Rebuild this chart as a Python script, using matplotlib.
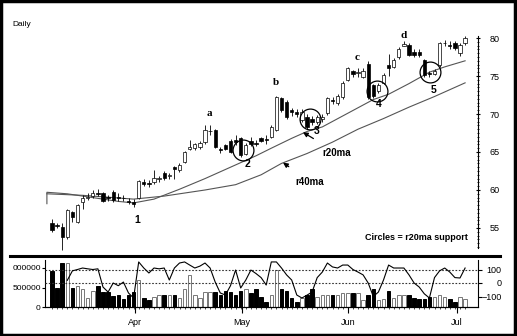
import numpy as np
import matplotlib

matplotlib.use("Agg")
import matplotlib.pyplot as plt
from matplotlib.lines import Line2D
from matplotlib.patches import Rectangle

# daily bars, trading day index 0..81 (mid March to early July)
opens = [55.7, 55.4, 55.1, 53.8, 57.1, 55.8, 58.4, 59.0, 59.2, 59.6,
         59.6, 59.1, 59.7, 59.1, 59.0, 58.6, 58.4, 58.9, 61.0, 60.9,
         61.0, 61.5, 62.3, 61.9, 63.0, 62.6, 63.7, 65.4, 65.5, 65.7,
         66.3, 67.7, 67.9, 65.4, 65.9, 66.5, 66.6, 66.8, 64.8, 66.4,
         66.2, 66.8, 66.7, 67.0, 67.9, 72.1, 71.6, 70.5, 70.3, 69.2,
         69.6, 69.3, 69.0, 69.4, 70.1, 71.9, 71.4, 72.2, 74.5, 75.6,
         75.4, 74.9, 76.6, 73.8, 73.0, 74.1, 76.4, 76.2, 77.5, 79.0,
         79.1, 78.2, 78.1, 77.1, 75.4, 75.3, 76.4, 79.3, 79.1, 79.3,
         78.0, 79.3]
highs = [56.2, 55.7, 55.7, 57.5, 57.3, 58.2, 59.4, 59.6, 60.0, 60.1,
         59.8, 59.4, 60.0, 59.6, 59.3, 58.9, 58.8, 61.3, 61.5, 61.3,
         62.6, 61.9, 62.5, 62.3, 63.2, 63.6, 65.1, 66.6, 66.2, 66.5,
         68.6, 68.6, 68.0, 65.7, 66.0, 66.7, 67.2, 67.0, 66.2, 67.0,
         66.6, 67.0, 67.2, 68.6, 72.4, 72.3, 71.8, 70.8, 70.6, 70.6,
         70.0, 69.8, 69.9, 70.0, 72.3, 72.2, 72.6, 74.3, 76.2, 75.8,
         76.1, 76.0, 77.0, 74.0, 74.1, 75.4, 77.9, 77.4, 78.8, 79.6,
         79.3, 78.6, 78.5, 77.3, 75.6, 75.9, 79.5, 79.8, 79.6, 79.6,
         79.3, 80.2]
lows = [54.5, 55.0, 52.1, 53.6, 55.8, 55.6, 57.5, 58.7, 59.0, 59.2,
        58.4, 58.6, 58.4, 58.5, 58.6, 58.2, 57.7, 58.8, 60.5, 60.4,
        60.8, 61.0, 61.3, 61.5, 61.4, 62.4, 63.6, 65.2, 65.2, 65.4,
        66.1, 67.3, 65.5, 64.9, 65.2, 64.9, 65.9, 64.3, 64.6, 65.8,
        65.8, 66.3, 66.1, 66.8, 67.7, 70.2, 69.3, 69.7, 69.6, 69.0,
        68.0, 68.6, 68.7, 69.0, 69.9, 71.3, 71.2, 72.0, 74.3, 74.9,
        74.9, 74.7, 72.0, 72.1, 72.8, 73.9, 75.0, 76.0, 77.3, 78.9,
        77.6, 77.5, 77.5, 74.9, 74.9, 75.1, 76.2, 78.9, 78.5, 78.4,
        77.6, 79.1]
closes = [54.8, 55.3, 53.8, 57.4, 56.5, 58.0, 59.0, 59.1, 59.6, 59.5,
          58.6, 58.9, 58.7, 59.0, 58.9, 58.4, 58.2, 61.2, 60.8, 60.8,
          61.6, 61.6, 61.6, 62.0, 62.7, 63.3, 65.0, 65.6, 66.0, 66.2,
          67.9, 67.8, 65.7, 65.3, 65.4, 65.0, 66.3, 64.6, 65.9, 66.0,
          66.1, 66.5, 66.6, 68.3, 72.2, 70.5, 69.6, 70.2, 70.0, 70.3,
          68.3, 69.0, 69.6, 69.6, 72.1, 71.7, 72.4, 74.1, 76.0, 75.3,
          75.5, 75.7, 72.2, 72.4, 73.8, 75.1, 76.1, 77.1, 78.6, 79.2,
          77.8, 77.7, 77.8, 75.1, 75.2, 75.7, 79.3, 79.4, 79.0, 78.7,
          79.1, 80.0]
volume = [920000, 500000, 1130000, 1130000, 500000, 550000, 450000, 230000, 420000, 550000,
          380000, 380000, 270000, 300000, 200000, 300000, 380000, 690000, 230000, 180000,
          250000, 300000, 300000, 300000, 300000, 230000, 450000, 820000, 300000, 230000,
          380000, 380000, 380000, 320000, 400000, 380000, 300000, 420000, 450000, 350000,
          450000, 250000, 120000, 300000, 950000, 450000, 400000, 230000, 120000, 230000,
          300000, 450000, 250000, 300000, 300000, 320000, 320000, 350000, 370000, 370000,
          370000, 170000, 300000, 450000, 170000, 200000, 420000, 220000, 300000, 300000,
          300000, 220000, 200000, 200000, 250000, 250000, 300000, 250000, 200000, 120000,
          250000, 200000]
osc = [np.nan, np.nan, np.nan, 20, 90, 100, 111, 105, 100, 105,
       -30, -67, 0, -20, 7, -74, -111, 156, 111, 74,
       111, 105, 111, 22, 111, 148, 156, 133, 111, 125,
       148, 111, 7, -74, -89, -20, 96, -37, 22, 96,
       70, 40, -15, 156, 156, 111, 60, 22, -89, -111,
       -90, -67, 40, 81, 148, 119, 111, 133, 133, 100,
       81, 60, 0, -100, -67, 22, 133, 111, 111, 111,
       60, 0, -30, -80, -111, 40, 90, 111, 81, 40,
       37, 111]

r20_day = [-1, -1, 3, 8, 13, 16, 20, 25, 30, 35, 40, 43, 47, 50, 53, 58, 63, 66, 70, 74, 77, 81]
r20_val = [58.2, 59.7, 59.5, 59.0, 58.5, 58.3, 58.8, 60.1, 61.5, 63.0, 64.5, 65.5, 66.8, 67.7,
           68.3, 70.1, 71.9, 72.6, 74.0, 75.5, 76.2, 77.0]
r40_day = [-1, 6, 12, 16, 22, 30, 36, 41, 45, 50, 55, 60, 65, 70, 75, 81]
r40_val = [59.5, 59.3, 59.0, 58.8, 59.2, 60.0, 60.7, 62.0, 63.5, 64.8, 66.3, 68.0, 69.4, 70.9,
           72.3, 74.1]

month_pos = [16.3, 37.3, 58.0, 79.4]
month_labels = ["Apr", "May", "Jun", "Jul"]
price_ticks = [55, 60, 65, 70, 75, 80]
vol_ticks = [0, 500000, 1000000]
vol_labels = ["0", "500000", "000000"]
osc_ticks = [-100, 0, 100]

pivot_labels = ["a", "b", "c", "d"]
pivot_day = [30.8, 43.9, 59.8, 69.0]
pivot_price = [70.1, 74.1, 77.4, 80.3]
touch_labels = ["1", "2", "3", "4", "5"]
touch_day = [16.7, 38.4, 51.8, 64.1, 74.9]
touch_price = [56.1, 63.4, 67.8, 71.3, 73.2]
circle_day = [37.5, 50.6, 63.7, 74.1]
circle_price = [65.3, 69.3, 73.0, 75.5]

# pixel layout of the original picture
W, H = 517, 336
X0, DX = 52.0, 5.1


def rect(l, t, r, b):
    return [l / W, 1 - b / H, (r - l) / W, (b - t) / H]


def xlim(l, r):
    return ((l - X0) / DX, (r - X0) / DX)


fig = plt.figure(figsize=(W / 100, H / 100), dpi=100)
plt.rcParams["font.family"] = ["Liberation Sans", "DejaVu Sans"]

days = np.arange(len(opens))
o = np.array(opens)
c = np.array(closes)
up = c >= o

# price panel
ax = fig.add_axes(rect(6, 8, 478, 256))
ax.set_xlim(*xlim(6, 478))
ax.set_ylim(80 - 218 / 7.6, 80 + 30 / 7.6)
ax.vlines(days, lows, highs, color="k", lw=0.6, zorder=2)
body_lo = np.minimum(o, c)
body_h = np.maximum(np.abs(c - o), 0.1)
ax.bar(days, body_h, bottom=body_lo, width=0.64,
       color=np.where(up, "white", "black"), edgecolor="k", lw=0.5, zorder=3)
ax.plot(r20_day, r20_val, color="#555", lw=0.8, zorder=1)
ax.plot(r40_day, r40_val, color="#555", lw=0.8, zorder=1)
ax.plot(circle_day, circle_price, "o", ms=15, mfc="none", mec="k", mew=0.9, zorder=4)

for lab, d, p in zip(pivot_labels, pivot_day, pivot_price):
    ax.text(d, p, lab, ha="center", va="center", fontsize=8, fontweight="bold",
            family="Liberation Serif")
for lab, d, p in zip(touch_labels, touch_day, touch_price):
    ax.text(d, p, lab, ha="center", va="center", fontsize=7.5, fontweight="bold")

ax.annotate("r20ma", xy=(49.2, 67.6), xytext=(55.9, 64.9), ha="center", va="center",
            fontsize=7, fontweight="bold",
            arrowprops=dict(arrowstyle="-|>", color="k", lw=0.9, mutation_scale=7,
                            shrinkA=9, shrinkB=0))
ax.annotate("r40ma", xy=(45.3, 63.6), xytext=(50.6, 61.1), ha="center", va="center",
            fontsize=7, fontweight="bold",
            arrowprops=dict(arrowstyle="-|>", color="k", lw=0.9, mutation_scale=7,
                            shrinkA=9, shrinkB=0))
ax.text(81.6, 53.7, "Circles = r20ma support", ha="right", va="center",
        fontsize=6.5, fontweight="bold")

for s in ["top", "left", "bottom"]:
    ax.spines[s].set_visible(False)
ax.spines["right"].set_bounds(52.4, 80.2)
ax.spines["right"].set_linewidth(0.8)
ax.yaxis.tick_right()
ax.set_yticks(price_ticks)
ax.set_yticks(np.arange(52.5, 80.5, 0.5), minor=True)
ax.tick_params(axis="y", which="major", length=3, direction="inout", labelsize=6.5, pad=7)
ax.tick_params(axis="y", which="minor", length=1.5, direction="inout", width=0.6)
ax.set_xticks([])

# volume + oscillator panel
axv = fig.add_axes(rect(45, 260, 478, 307))
axv.set_xlim(*xlim(45, 478))
axv.set_ylim(0, 47 / 39 * 1e6)
axv.bar(days, volume, width=0.7, color=np.where(up, "white", "black"),
        edgecolor=np.where(up, "#777", "black"), lw=0.7)
axv.spines["top"].set_visible(False)
axv.spines["right"].set_visible(False)
axv.set_yticks(vol_ticks)
axv.set_yticklabels(vol_labels)
axv.set_xticks(month_pos)
axv.set_xticklabels(month_labels)
axv.set_xticks(days, minor=True)
axv.tick_params(axis="y", length=2, labelsize=6, pad=1)
axv.tick_params(axis="x", which="major", length=4, labelsize=6.5, pad=4)
axv.tick_params(axis="x", which="minor", length=1.5, width=0.5)

axo = axv.twinx()
axo.set_ylim(-24 / 13.5 * 100, 23 / 13.5 * 100)
for lvl in [100, 0]:
    axo.axhline(lvl, color="#333", lw=0.8, ls=(0, (1.5, 1.5)))
axo.plot(days, osc, color="k", lw=0.8)
axo.set_yticks(osc_ticks)
axo.tick_params(axis="y", length=3, labelsize=6.5, pad=14)
for t in axo.get_yticklabels():
    t.set_ha("right")
axo.spines["top"].set_visible(False)
axo.spines["left"].set_visible(False)

fig.text(12 / W, 1 - 25 / H, "Daily", fontsize=6, va="center")
fig.add_artist(Line2D([10 / W, 500 / W], [1 - 256 / H, 1 - 256 / H], color="k", lw=2.2))
fig.add_artist(Rectangle((0.002, 0.003), 0.995, 0.994, transform=fig.transFigure,
                         fill=False, edgecolor="k", lw=2.5))

fig.savefig("out.png", dpi=100)
